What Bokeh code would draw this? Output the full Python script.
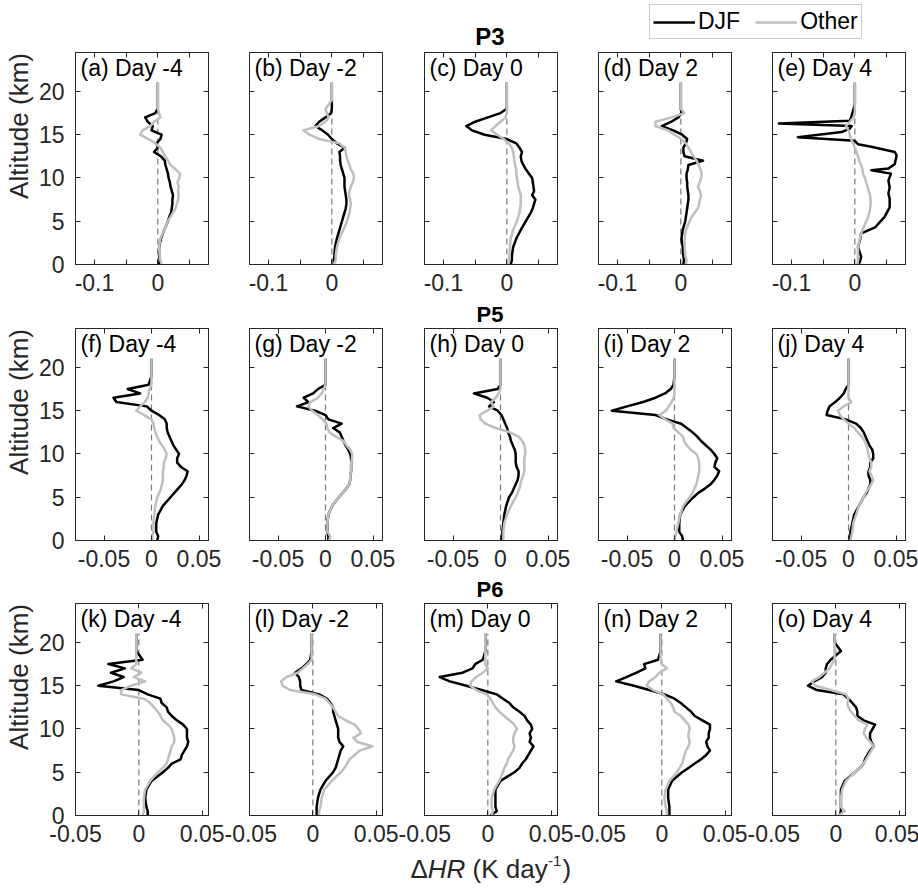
from bokeh.plotting import figure
from bokeh.models import (Range1d, FixedTicker, LinearAxis, CustomJSTickFormatter,
                          Label, Legend, LegendItem)
from bokeh.layouts import column, row
from bokeh.embed import file_html
from bokeh.resources import INLINE

FONT = "Liberation Sans"
INK = "#262626"
DJF_COLOR = "#000000"
OTHER_COLOR = "#bfbfbf"

# ---------------------------------------------------------------- data
# altitude levels (km) shared by the profiles
alt = [0, 0.5, 1, 2, 3, 4,
       5, 5.5, 6, 6.5, 7, 7.5,
       8, 8.5, 9, 9.5, 10, 10.5,
       11, 11.5, 12, 12.5, 13, 13.5,
       14, 14.5, 15, 15.5, 16, 16.5,
       17, 17.5, 18, 19, 20, 21]

# P3
a_djf = [0.002, 0.003, 0.002, 0.002, 0.005, 0.010,
         0.016, 0.018, 0.021, 0.022, 0.023, 0.023,
         0.024, 0.022, 0.020, 0.019, 0.017, 0.016,
         0.014, 0.012, 0.011, 0.005, -0.006, 0.000,
         -0.002, 0.004, 0.006, -0.010, -0.008, -0.016,
         -0.020, -0.004, 0.000, 0.000, 0.000, 0.000]
a_oth = [0.006, 0.004, 0.003, 0.002, 0.004, 0.010,
         0.016, 0.020, 0.024, 0.028, 0.030, 0.032,
         0.033, 0.032, 0.033, 0.031, 0.034, 0.035,
         0.028, 0.020, 0.016, 0.012, 0.008, 0.004,
         -0.004, -0.015, -0.028, -0.024, -0.012, -0.006,
         0.004, 0.002, 0.000, 0.000, 0.000, 0.000]
b_djf = [0.003, 0.003, 0.004, 0.005, 0.008, 0.012,
         0.016, 0.018, 0.020, 0.022, 0.023, 0.023,
         0.022, 0.021, 0.020, 0.020, 0.020, 0.018,
         0.016, 0.014, 0.013, 0.013, 0.012, 0.020,
         0.008, 0.000, -0.006, -0.015, -0.026, -0.020,
         -0.010, -0.001, 0.000, 0.000, 0.000, 0.000]
b_oth = [0.003, 0.006, 0.006, 0.008, 0.012, 0.018,
         0.024, 0.026, 0.028, 0.029, 0.030, 0.029,
         0.027, 0.028, 0.030, 0.033, 0.035, 0.034,
         0.030, 0.028, 0.025, 0.023, 0.022, 0.020,
         0.012, -0.020, -0.035, -0.045, -0.020, -0.010,
         -0.005, -0.008, -0.010, 0.000, 0.000, 0.000]
c_djf = [0.006, 0.008, 0.008, 0.010, 0.015, 0.022,
         0.030, 0.034, 0.038, 0.041, 0.043, 0.045,
         0.040, 0.043, 0.042, 0.041, 0.040, 0.035,
         0.030, 0.026, 0.023, 0.022, 0.024, 0.020,
         0.015, 0.000, -0.035, -0.055, -0.064, -0.050,
         -0.030, -0.010, 0.000, 0.000, 0.000, 0.000]
c_oth = [0.002, 0.003, 0.004, 0.005, 0.006, 0.010,
         0.016, 0.018, 0.020, 0.021, 0.022, 0.022,
         0.022, 0.020, 0.018, 0.017, 0.016, 0.015,
         0.015, 0.013, 0.012, 0.011, 0.010, 0.008,
         0.003, -0.005, -0.015, -0.025, -0.018, -0.010,
         -0.002, 0.000, 0.000, 0.000, 0.000, 0.000]
d_djf = [0.004, 0.005, 0.004, 0.003, 0.001, 0.003,
         0.007, 0.008, 0.009, 0.010, 0.011, 0.012,
         0.012, 0.011, 0.010, 0.010, 0.009, 0.009,
         0.011, 0.012, 0.035, 0.006, 0.004, 0.004,
         0.008, 0.010, 0.002, -0.012, -0.030, -0.015,
         -0.004, 0.001, 0.000, 0.000, 0.000, 0.000]
d_oth = [0.008, 0.009, 0.007, 0.006, 0.006, 0.008,
         0.014, 0.017, 0.022, 0.027, 0.029, 0.030,
         0.032, 0.030, 0.027, 0.030, 0.032, 0.033,
         0.031, 0.028, 0.025, 0.020, 0.016, 0.012,
         0.008, 0.001, -0.010, -0.020, -0.040, -0.040,
         -0.015, 0.006, 0.000, 0.000, 0.000, 0.000]
# Day 4 DJF profile has two narrow spikes, so it keeps its own levels
e_djf_alt = [0, 0.3, 0.9, 2, 2.8, 3.6,
             4.3, 5.5, 6.6, 7.6, 8.2, 8.9,
             9.7, 10.5, 10.9, 11.1, 11.6, 12.6,
             13, 13.6, 13.9, 14.3, 14.7, 15.3,
             15.7, 16, 16.3, 16.6, 17.2, 18.5, 21]
e_djf = [0.005, 0.008, 0.010, 0.005, 0.008, 0.010,
         0.032, 0.047, 0.055, 0.055, 0.053, 0.055,
         0.053, 0.057, 0.026, 0.053, 0.063, 0.066,
         0.063, 0.026, 0.005, 0.000, -0.090, -0.021,
         -0.008, -0.005, -0.120, -0.008, -0.005, 0.000, 0.000]
e_oth = [0.004, 0.005, 0.005, 0.005, 0.008, 0.012,
         0.018, 0.021, 0.023, 0.024, 0.025, 0.025,
         0.024, 0.022, 0.020, 0.018, 0.016, 0.013,
         0.012, 0.010, 0.007, 0.005, 0.003, 0.000,
         -0.003, -0.006, -0.008, -0.010, -0.014, -0.008,
         -0.002, 0.000, 0.000, 0.000, 0.000, 0.000]

# P5
f_djf = [0.006, 0.007, 0.005, 0.005, 0.007, 0.012,
         0.020, 0.024, 0.028, 0.032, 0.035, 0.037,
         0.038, 0.031, 0.027, 0.027, 0.029, 0.026,
         0.023, 0.021, 0.019, 0.017, 0.016, 0.016,
         0.014, 0.008, 0.000, -0.005, -0.037, -0.040,
         -0.012, -0.025, -0.003, 0.000, 0.000, 0.000]
f_oth = [0.001, 0.001, 0.002, 0.002, 0.003, 0.004,
         0.006, 0.008, 0.010, 0.011, 0.012, 0.012,
         0.012, 0.013, 0.013, 0.015, 0.016, 0.014,
         0.011, 0.008, 0.006, 0.004, 0.003, 0.002,
         0.000, -0.008, -0.016, -0.012, -0.007, -0.004,
         -0.003, -0.002, 0.000, 0.000, 0.000, 0.000]
g_djf = [0.003, 0.003, 0.002, 0.002, 0.003, 0.007,
         0.014, 0.018, 0.022, 0.025, 0.026, 0.026,
         0.027, 0.027, 0.027, 0.027, 0.026, 0.024,
         0.021, 0.019, 0.017, 0.015, 0.008, 0.017,
         0.003, 0.000, -0.011, -0.030, -0.018, -0.023,
         -0.013, -0.008, 0.000, 0.000, 0.000, 0.000]
g_oth = [0.004, 0.005, 0.002, 0.002, 0.003, 0.007,
         0.014, 0.018, 0.022, 0.025, 0.026, 0.026,
         0.027, 0.027, 0.027, 0.028, 0.028, 0.026,
         0.022, 0.019, 0.011, 0.004, 0.002, 0.001,
         -0.003, -0.008, -0.014, -0.018, -0.016, -0.008,
         -0.004, -0.002, 0.000, 0.000, 0.000, 0.000]
h_djf = [0.001, 0.002, 0.002, 0.003, 0.004, 0.006,
         0.009, 0.012, 0.014, 0.016, 0.018, 0.019,
         0.019, 0.017, 0.016, 0.016, 0.016, 0.015,
         0.013, 0.011, 0.010, 0.008, 0.007, 0.005,
         0.003, 0.001, -0.003, -0.012, -0.007, -0.014,
         -0.028, -0.003, 0.000, 0.000, 0.000, 0.000]
h_oth = [0.003, 0.003, 0.003, 0.004, 0.007, 0.011,
         0.016, 0.018, 0.020, 0.021, 0.022, 0.024,
         0.025, 0.025, 0.025, 0.025, 0.026, 0.026,
         0.025, 0.023, 0.019, 0.010, -0.005, -0.016,
         -0.021, -0.022, -0.014, -0.007, -0.010, -0.005,
         -0.002, 0.000, 0.000, 0.000, 0.000, 0.000]
i_djf = [0.009, 0.008, 0.005, 0.005, 0.006, 0.011,
         0.020, 0.025, 0.032, 0.038, 0.042, 0.045,
         0.047, 0.042, 0.043, 0.045, 0.042, 0.038,
         0.033, 0.028, 0.024, 0.019, 0.013, 0.007,
         -0.008, -0.020, -0.066, -0.050, -0.033, -0.020,
         -0.010, -0.004, -0.001, 0.000, 0.000, 0.000]
i_oth = [0.000, 0.001, 0.002, 0.004, 0.006, 0.009,
         0.016, 0.019, 0.021, 0.023, 0.024, 0.025,
         0.026, 0.026, 0.026, 0.025, 0.023, 0.017,
         0.013, 0.010, 0.009, 0.004, -0.001, -0.002,
         -0.010, -0.016, -0.009, -0.006, -0.003, -0.001,
         0.000, 0.000, 0.000, 0.000, 0.000, 0.000]
j_djf = [0.001, 0.002, 0.002, 0.004, 0.006, 0.011,
         0.016, 0.019, 0.021, 0.023, 0.023, 0.021,
         0.021, 0.023, 0.023, 0.026, 0.026, 0.025,
         0.022, 0.020, 0.018, 0.016, 0.013, 0.008,
         -0.003, -0.023, -0.022, -0.020, -0.014, -0.009,
         -0.005, -0.003, 0.000, 0.000, 0.000, 0.000]
j_oth = [0.002, 0.003, 0.004, 0.005, 0.008, 0.011,
         0.016, 0.018, 0.021, 0.024, 0.026, 0.024,
         0.022, 0.024, 0.024, 0.022, 0.021, 0.020,
         0.019, 0.017, 0.014, 0.010, 0.006, 0.000,
         -0.005, -0.009, -0.011, -0.005, 0.003, 0.000,
         0.000, 0.000, 0.000, 0.000, 0.000, 0.000]

# P6
k_djf = [0.007, 0.007, 0.006, 0.005, 0.006, 0.010,
         0.019, 0.023, 0.026, 0.033, 0.034, 0.036,
         0.038, 0.039, 0.038, 0.038, 0.038, 0.035,
         0.030, 0.026, 0.023, 0.022, 0.018, 0.017,
         0.007, 0.000, -0.032, -0.020, -0.012, -0.022,
         -0.011, -0.024, 0.003, -0.002, -0.002, -0.002]
k_oth = [0.003, 0.004, 0.004, 0.004, 0.005, 0.009,
         0.015, 0.019, 0.022, 0.023, 0.024, 0.025,
         0.026, 0.028, 0.028, 0.027, 0.026, 0.023,
         0.019, 0.017, 0.015, 0.012, 0.009, 0.004,
         -0.014, -0.014, -0.006, 0.005, -0.004, 0.002,
         -0.006, -0.002, -0.002, -0.002, -0.002, -0.002]
l_djf = [0.003, 0.003, 0.003, 0.004, 0.006, 0.010,
         0.016, 0.018, 0.019, 0.020, 0.021, 0.022,
         0.024, 0.021, 0.020, 0.020, 0.020, 0.019,
         0.018, 0.017, 0.016, 0.016, 0.014, 0.011,
         0.005, -0.009, -0.010, -0.010, -0.011, -0.014,
         -0.009, -0.005, -0.002, -0.001, -0.001, -0.001]
l_oth = [0.005, 0.005, 0.006, 0.007, 0.009, 0.015,
         0.022, 0.025, 0.027, 0.029, 0.033, 0.037,
         0.047, 0.035, 0.032, 0.038, 0.036, 0.033,
         0.026, 0.020, 0.018, 0.016, 0.013, 0.010,
         0.002, -0.018, -0.024, -0.025, -0.021, -0.012,
         -0.008, -0.004, -0.001, -0.001, -0.001, -0.001]
m_djf = [0.002, 0.007, 0.006, 0.006, 0.006, 0.010,
         0.021, 0.025, 0.027, 0.030, 0.032, 0.034,
         0.036, 0.033, 0.034, 0.033, 0.035, 0.034,
         0.031, 0.029, 0.025, 0.020, 0.017, 0.012,
         0.007, -0.005, -0.017, -0.030, -0.038, -0.020,
         -0.012, -0.010, -0.004, -0.002, -0.002, -0.002]
m_oth = [0.003, 0.004, 0.003, 0.003, 0.005, 0.009,
         0.012, 0.013, 0.015, 0.016, 0.018, 0.020,
         0.021, 0.020, 0.020, 0.021, 0.023, 0.021,
         0.017, 0.013, 0.009, 0.006, 0.004, 0.002,
         -0.001, -0.009, -0.014, -0.013, -0.009, -0.004,
         0.000, -0.002, -0.002, -0.002, -0.002, -0.002]
n_djf = [0.006, 0.006, 0.006, 0.005, 0.005, 0.008,
         0.016, 0.021, 0.026, 0.031, 0.035, 0.038,
         0.036, 0.035, 0.037, 0.037, 0.038, 0.038,
         0.032, 0.026, 0.023, 0.019, 0.015, 0.010,
         0.002, -0.010, -0.022, -0.036, -0.028, -0.020,
         -0.013, -0.014, -0.003, -0.001, -0.001, -0.001]
n_oth = [0.004, 0.004, 0.003, 0.002, 0.003, 0.006,
         0.012, 0.014, 0.016, 0.017, 0.018, 0.019,
         0.021, 0.022, 0.021, 0.021, 0.022, 0.021,
         0.018, 0.015, 0.010, 0.009, 0.007, 0.004,
         0.001, -0.007, -0.012, -0.010, -0.005, -0.002,
         0.004, 0.000, -0.001, -0.001, -0.001, -0.001]
o_djf = [0.003, 0.004, 0.004, 0.004, 0.004, 0.007,
         0.015, 0.019, 0.022, 0.023, 0.025, 0.027,
         0.030, 0.028, 0.027, 0.027, 0.029, 0.031,
         0.022, 0.017, 0.017, 0.016, 0.013, 0.010,
         0.006, -0.015, -0.022, -0.017, -0.011, -0.008,
         -0.008, -0.007, -0.004, 0.004, -0.001, -0.001]
o_oth = [0.002, 0.007, 0.004, 0.004, 0.005, 0.008,
         0.015, 0.019, 0.022, 0.024, 0.026, 0.028,
         0.030, 0.027, 0.024, 0.022, 0.023, 0.025,
         0.018, 0.015, 0.012, 0.010, 0.009, 0.010,
         0.008, -0.004, -0.016, -0.019, -0.013, -0.009,
         -0.005, -0.003, -0.001, -0.001, -0.001, -0.001]

days = ["Day -4", "Day -2", "Day 0", "Day 2", "Day 4"]
group_names = ["P3", "P5", "P6"]
panel_tags = [["a", "b", "c", "d", "e"],
              ["f", "g", "h", "i", "j"],
              ["k", "l", "m", "n", "o"]]
# (altitude of DJF, DJF, altitude of Other, Other) for each panel
profiles = [
    [(alt, a_djf, alt, a_oth), (alt, b_djf, alt, b_oth), (alt, c_djf, alt, c_oth),
     (alt, d_djf, alt, d_oth), (e_djf_alt, e_djf, alt, e_oth)],
    [(alt, f_djf, alt, f_oth), (alt, g_djf, alt, g_oth), (alt, h_djf, alt, h_oth),
     (alt, i_djf, alt, i_oth), (alt, j_djf, alt, j_oth)],
    [(alt, k_djf, alt, k_oth), (alt, l_djf, alt, l_oth), (alt, m_djf, alt, m_oth),
     (alt, n_djf, alt, n_oth), (alt, o_djf, alt, o_oth)],
]

x_limits = [(-0.13, 0.08), (-0.08, 0.06), (-0.05, 0.055)]
x_ticks = [[-0.1, -0.05, 0, 0.05], [-0.05, 0, 0.05], [-0.05, 0, 0.05]]
x_unlabelled = [[-0.05, 0.05], [], []]
y_limits = (0, 24.5)
y_ticks = [0, 5, 10, 15, 20]

# ---------------------------------------------------------------- layout
PAGE_W = 918
FRAME_W, FRAME_H = 133, 212
LEFT = [74, 25, 26, 25, 25]
RIGHT = [16, 16, 16, 16, 14]
TOP = [2, 1, 1]
BOTTOM = 36
HEADER_H = 50                      # legend + P3
BAND_H = [27, 26]                  # P5, P6
FOOTER_H = 39                      # x quantity label
TICK_SIZE = "23px"
# the axis title is centred on the frame; leading no-break spaces lift the
# printed words towards the top of the frame
Y_TITLE = "\u00a0" * 9 + "Altitude (km)"

TICK_FMT_CODE = """
const v = Math.round(tick * 1000) / 1000;
for (const h of hidden) { if (Math.abs(h - v) < 1e-9) return ""; }
return String(v);
"""


def blank_formatter():
    return CustomJSTickFormatter(code='return "";')


def style_axis(ax, labelled):
    ax.axis_line_color = INK
    ax.axis_line_width = 1
    ax.major_tick_line_color = INK
    ax.major_tick_line_width = 1
    ax.major_tick_in = 5
    ax.major_tick_out = 0
    ax.minor_tick_line_color = None
    ax.major_label_text_font = FONT
    ax.major_label_text_color = INK
    if labelled:
        ax.major_label_text_font_size = TICK_SIZE
        ax.major_label_standoff = 9
    else:
        ax.major_label_text_font_size = "0px"
        ax.major_label_standoff = 0


def blank_canvas(width, height):
    p = figure(width=width, height=height, x_range=Range1d(0, 1), y_range=Range1d(0, 1),
               x_axis_location=None, y_axis_location=None, toolbar_location=None,
               output_backend="svg", min_border=0, outline_line_color=None,
               background_fill_color="white", border_fill_color="white")
    p.grid.visible = False
    return p


def text_label(x, y, text, size, style="normal", color="black", align="left"):
    # y is the vertical centre of the text line, in pixels from the frame bottom
    return Label(x=x, y=y, x_units="screen", y_units="screen", text=text,
                 text_font=FONT, text_font_size=size, text_font_style=style,
                 text_color=color, text_align=align, text_baseline="middle")


def make_panel(r, c):
    y_djf, x_djf, y_oth, x_oth = profiles[r][c]
    p = figure(frame_width=FRAME_W, frame_height=FRAME_H,
               x_range=Range1d(*x_limits[r]), y_range=Range1d(*y_limits),
               x_axis_location=None, y_axis_location=None,
               toolbar_location=None, output_backend="svg",
               min_border_left=LEFT[c], min_border_right=RIGHT[c],
               min_border_top=TOP[r], min_border_bottom=BOTTOM,
               background_fill_color="white", border_fill_color="white",
               outline_line_color=INK, outline_line_width=1)
    p.grid.visible = False

    xb = LinearAxis(ticker=FixedTicker(ticks=x_ticks[r]),
                    formatter=CustomJSTickFormatter(args=dict(hidden=x_unlabelled[r]),
                                                    code=TICK_FMT_CODE))
    style_axis(xb, True)
    p.add_layout(xb, "below")

    xa = LinearAxis(ticker=FixedTicker(ticks=x_ticks[r]), formatter=blank_formatter())
    style_axis(xa, False)
    p.add_layout(xa, "above")

    if c == 0:
        yl = LinearAxis(ticker=FixedTicker(ticks=y_ticks))
        style_axis(yl, True)
        yl.major_label_standoff = 11
        yl.axis_label = Y_TITLE
        yl.axis_label_text_font = FONT
        yl.axis_label_text_font_size = "26px"
        yl.axis_label_text_font_style = "normal"
        yl.axis_label_text_color = INK
        yl.axis_label_standoff = 2
    else:
        yl = LinearAxis(ticker=FixedTicker(ticks=y_ticks), formatter=blank_formatter())
        style_axis(yl, False)
    p.add_layout(yl, "left")

    yr = LinearAxis(ticker=FixedTicker(ticks=y_ticks), formatter=blank_formatter())
    style_axis(yr, False)
    p.add_layout(yr, "right")

    # zero reference
    p.line([0.0, 0.0], [min(alt), max(alt)], line_color="#7a7a7a",
           line_width=1.2, line_dash="6 4")
    p.line(x_djf, y_djf, line_color=DJF_COLOR, line_width=2.5, line_join="round")
    p.line(x_oth, y_oth, line_color=OTHER_COLOR, line_width=2.5, line_join="round")

    p.add_layout(text_label(5, FRAME_H - 15.5, f"({panel_tags[r][c]}) {days[c]}", "23px"))
    return p


# ---------------------------------------------------------------- header
header = blank_canvas(PAGE_W, HEADER_H)
nan = float("nan")
r_djf = header.line(x=[nan], y=[nan], line_color=DJF_COLOR, line_width=2.5)
r_oth = header.line(x=[nan], y=[nan], line_color=OTHER_COLOR, line_width=2.5)
legend = Legend(items=[LegendItem(label="DJF", renderers=[r_djf]),
                       LegendItem(label="Other", renderers=[r_oth])],
                orientation="horizontal", location=(649, 11),
                glyph_width=42, glyph_height=20, label_height=20,
                label_standoff=3, spacing=15, padding=3, margin=0,
                label_text_font=FONT, label_text_font_size="23px", label_text_color="black",
                border_line_color="#9a9a9a", border_line_width=1,
                background_fill_color="white", background_fill_alpha=1.0)
header.add_layout(legend)
header.add_layout(text_label(489.5, 14.5, group_names[0], "24px", style="bold", align="center"))

bands = []
for k, name in enumerate(group_names[1:]):
    b = blank_canvas(PAGE_W, BAND_H[k])
    b.add_layout(text_label(489.5, 13, name, "22px", style="bold", align="center"))
    bands.append(b)

# x quantity label: ΔHR (K day⁻¹)
footer = blank_canvas(PAGE_W, FOOTER_H)
for txt, style, size, px, py in [("\u0394", "normal", "26px", 410.0, 21.5),
                                 ("HR", "italic", "26px", 427.3, 21.5),
                                 ("(K day", "normal", "26px", 472.0, 21.5),
                                 ("-1", "normal", "15px", 547.5, 29.5),
                                 (")", "normal", "26px", 562.0, 21.5)]:
    footer.add_layout(text_label(px, py, txt, size, style=style, color=INK))

rows = [row(*[make_panel(r, c) for c in range(5)]) for r in range(3)]
layout = column(header, rows[0], bands[0], rows[1], bands[1], rows[2], footer)

with open("out.html", "w") as fh:
    fh.write(file_html(layout, INLINE))
